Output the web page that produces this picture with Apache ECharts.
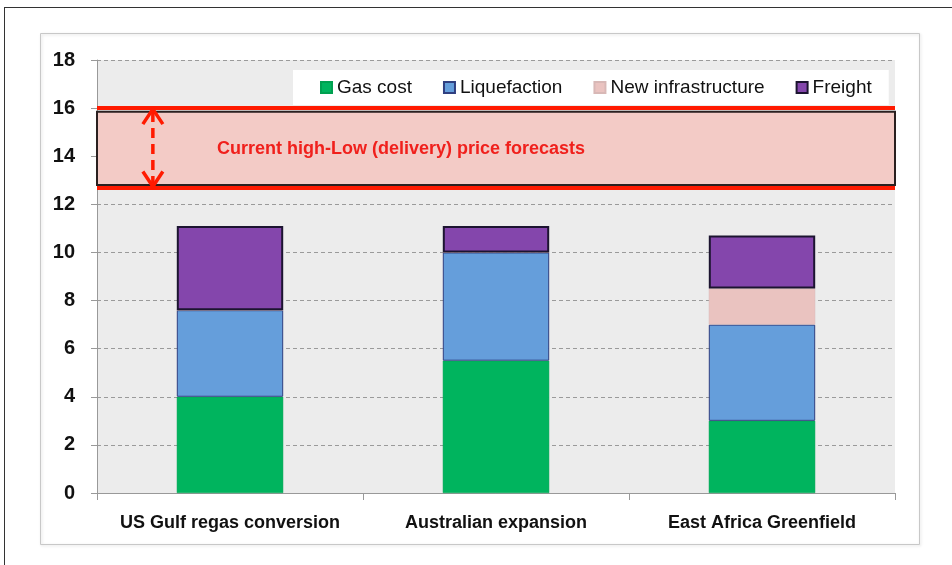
<!DOCTYPE html>
<html>
<head>
<meta charset="utf-8">
<script src="https://cdn.jsdelivr.net/npm/echarts@6/dist/echarts.min.js"></script>
<style>
  html, body { margin: 0; padding: 0; background: #fff; }
  #chart { width: 952px; height: 565px; }
</style>
</head>
<body>
<div id="chart"></div>
<script>
// ===== Data =====
const categories   = ['US Gulf regas conversion', 'Australian expansion', 'East Africa Greenfield'];
const gasCost      = [4.0, 5.5, 3.0];
const liquefaction = [3.6, 4.5, 4.0];
const newInfra     = [0, 0, 1.5];
const freight      = [3.5, 1.1, 2.2];
const forecastBand = [12.8, 15.85];   // low / high of the boxed range
const forecastLines = [12.7, 16.0];   // red lines
const bandLabel    = 'Current high-Low (delivery) price forecasts';

const FONT = '"Liberation Sans", Arial, sans-serif';

const chart = echarts.init(document.getElementById('chart'), null, { renderer: 'canvas' });

const barBase = { type: 'bar', stack: 'cost', barWidth: '40%' };

const option = {
  animation: false,
  textStyle: { fontFamily: FONT },
  grid: {
    left: 97, right: 57, top: 60, bottom: 72,
    show: true, backgroundColor: '#ececec', borderWidth: 0
  },
  legend: {
    left: 293, top: 70,
    backgroundColor: '#ffffff',
    padding: [8, 17, 8, 27],
    itemGap: 31,
    itemWidth: 11, itemHeight: 11,
    icon: 'rect',
    textStyle: { fontFamily: FONT, fontSize: 19, color: '#111', padding: [0, 0, 0, 0] },
    data: ['Gas cost', 'Liquefaction', 'New infrastructure', 'Freight']
  },
  xAxis: {
    type: 'category',
    data: categories,
    axisLine: { lineStyle: { color: '#999', width: 1 } },
    axisTick: { show: true, interval: 0, length: 7, lineStyle: { color: '#999' } },
    axisLabel: { interval: 0, fontFamily: FONT, fontSize: 18, fontWeight: 'bold', color: '#111', margin: 21 }
  },
  yAxis: {
    type: 'value',
    min: 0, max: 18, interval: 2,
    axisLine: { show: true, lineStyle: { color: '#999', width: 1 } },
    axisTick: { show: true, length: 6, lineStyle: { color: '#999' } },
    axisLabel: { fontFamily: FONT, fontSize: 20, fontWeight: 'bold', color: '#111', margin: 22 },
    splitLine: { lineStyle: { color: '#9a9a9a', type: [4, 3], width: 1 } }
  },
  series: [
    {
      ...barBase, name: 'Gas cost', data: gasCost,
      itemStyle: { color: '#00b45e', borderColor: '#00a050', borderWidth: 0.5 },
      markArea: {
        silent: true,
        itemStyle: { color: '#f3cbc6', borderColor: '#2a2020', borderWidth: 2 },
        label: {
          show: true, position: 'insideLeft', distance: 0, offset: [121, 1],
          fontFamily: FONT, fontSize: 18, fontWeight: 'bold', color: '#f0201c',
          formatter: bandLabel
        },
        data: [[{ yAxis: forecastBand[1] }, { yAxis: forecastBand[0] }]]
      },
      markLine: {
        silent: true, symbol: 'none', label: { show: false },
        lineStyle: { color: '#ff1a00', width: 4, type: 'solid' },
        data: forecastLines.map(v => ({ yAxis: v }))
      }
    },
    {
      ...barBase, name: 'Liquefaction', data: liquefaction,
      itemStyle: { color: '#659edb', borderColor: '#2f3f80', borderWidth: 1 }
    },
    {
      ...barBase, name: 'New infrastructure', data: newInfra,
      itemStyle: { color: '#eac3c0', borderColor: '#d8b8b6', borderWidth: 0.5 }
    },
    {
      ...barBase, name: 'Freight', data: freight,
      itemStyle: { color: '#8446ac', borderColor: '#1c1430', borderWidth: 2 }
    }
  ]
};

chart.setOption(option);

// ===== Annotations (frame + double arrow), placed from axis values =====
function drawExtras() {
  const top = chart.convertToPixel({ yAxisIndex: 0 }, forecastLines[1]);
  const bot = chart.convertToPixel({ yAxisIndex: 0 }, forecastLines[0]);
  const c0  = chart.convertToPixel({ xAxisIndex: 0 }, categories[0]);
  const gridLeft = option.grid.left;
  const ax = gridLeft + (c0 - gridLeft) * 0.42;
  const red = '#ff1a00';
  const hw = 10, hh = 16;

  chart.setOption({
    graphic: [
      // outer page frame
      { type: 'line', z: 0, shape: { x1: 4, y1: 7.5, x2: 952, y2: 7.5 }, style: { stroke: '#333', lineWidth: 1 } },
      { type: 'line', z: 0, shape: { x1: 4.5, y1: 7, x2: 4.5, y2: 565 }, style: { stroke: '#333', lineWidth: 1 } },
      // chart box
      { type: 'rect', z: -1, shape: { x: 40.5, y: 33.5, width: 879, height: 511 },
        style: { fill: 'none', stroke: '#c8c8c8', lineWidth: 1, shadowBlur: 3, shadowColor: 'rgba(0,0,0,0.15)', shadowOffsetX: 1, shadowOffsetY: 1 } },
      // dashed shaft
      { type: 'line', z: 100, shape: { x1: ax, y1: top + 4, x2: ax, y2: bot - 4 },
        style: { stroke: red, lineWidth: 3.5, lineDash: [10, 6] } },
      // heads
      { type: 'polyline', z: 100, shape: { points: [[ax - hw, top + hh], [ax, top + 1], [ax + hw, top + hh]] },
        style: { stroke: red, lineWidth: 3.5, fill: 'none' } },
      { type: 'polyline', z: 100, shape: { points: [[ax - hw, bot - hh], [ax, bot - 1], [ax + hw, bot - hh]] },
        style: { stroke: red, lineWidth: 3.5, fill: 'none' } }
    ]
  });
}

drawExtras();
</script>
</body>
</html>
